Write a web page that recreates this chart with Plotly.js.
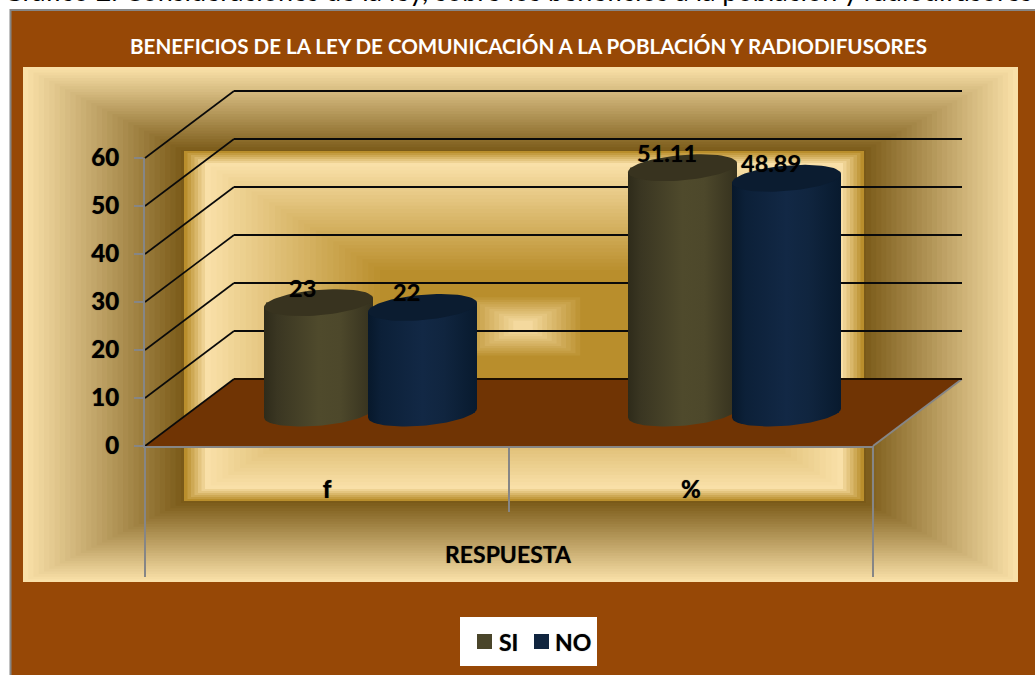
<!DOCTYPE html>
<html>
<head>
<meta charset="utf-8">
<script src="https://cdn.plot.ly/plotly-3.0.1.min.js"></script>
<style>html,body{margin:0;padding:0;background:#fff;overflow:hidden}</style>
</head>
<body>
<div id="chart" style="width:1035px;height:675px"></div>
<script>
// ---- data ----
const categories = ['f', '%'];
const seriesSI = [23, 51.11];
const seriesNO = [22, 48.89];
const labelsSI = ['23', '51.11'];
const labelsNO = ['22', '48.89'];
const yTicks = [0, 10, 20, 30, 40, 50, 60];
const seriesNames = ['SI', 'NO'];
const chartTitle = 'BENEFICIOS DE LA LEY DE COMUNICACIÓN A LA POBLACIÓN Y RADIODIFUSORES';
const xTitle = 'RESPUESTA';
const pageCaption = 'Gráfico 2. Consideraciones de la ley, sobre los beneficios a la población y radiodifusores';

// ---- geometry (pixels of the oblique 3-D box) ----
const W = 1035, H = 675;
const L = 145, R = 962, T = 85, B = 446;      // whole plot box
const frontW = 728, frontH = 288;             // front plane
const depthX = 89, depthY = 67;               // full depth offset
const pxPerUnit = frontH / 60, pxPerCat = frontW / 2;
const midBaseY = 413, midFirstX = 370.5;      // mid-depth plane
const half = 52, barW = 109;
const backBottom = B - depthY, backLeft = L + depthX, backRight = backLeft + frontW;

const pL = x => (x - L) / (R - L);
const pT = y => (B - y) / (B - T);

const COL = {
  brown: '#974806', floor: '#703404', cream: '#f9e0a8', dark: '#7a5a18', gold: '#b98e2c',
  si: '#4a452a', no: '#10253f', axis: '#868686'
};

function mix(a, b, t) {
  const h = c => [1, 3, 5].map(i => parseInt(c.substr(i, 2), 16));
  const A = h(a), B2 = h(b);
  return 'rgb(' + A.map((v, i) => Math.round(v + (B2[i] - v) * t)).join(',') + ')';
}

// nested rectangular gradient of the walls
const stops = [
  { r: [23, 67, 1018, 582], c: COL.cream, n: 30 },
  { r: [181, 150, 866, 503], c: COL.dark, n: 1 },
  { r: [184, 151, 864, 501], c: COL.gold, n: 6 },
  { r: [205, 163, 843, 489], c: COL.cream, n: 30 },
  { r: [380, 270, 670, 384], c: COL.gold, n: 1 },
  { r: [461, 295, 585, 358], c: COL.gold, n: 12 },
  { r: [518, 323, 528, 329], c: COL.cream, n: 1 }
];
const shapes = [];
const rectPx = (x0, y0, x1, y1, fill, line, lw) => ({
  type: 'rect', xref: 'paper', yref: 'paper', layer: 'below',
  x0: pL(x0), x1: pL(x1), y0: pT(y0), y1: pT(y1), fillcolor: fill,
  line: line ? { color: line, width: lw } : { width: 0 }
});
const linePx = (x0, y0, x1, y1, color, w) => ({
  type: 'line', xref: 'paper', yref: 'paper', layer: 'below',
  x0: pL(x0), x1: pL(x1), y0: pT(y0), y1: pT(y1), line: { color, width: w }
});
shapes.push(rectPx(10.5, 10, 1040, 680, COL.brown, COL.axis, 2));
for (let s = 0; s < stops.length - 1; s++) {
  const a = stops[s], b = stops[s + 1];
  for (let k = 0; k < a.n; k++) {
    const t = k / a.n;
    const r = a.r.map((v, i) => v + (b.r[i] - v) * t);
    shapes.push(rectPx(r[0], r[1], r[2], r[3], mix(a.c, b.c, t)));
  }
}
// floor
shapes.push({
  type: 'path', xref: 'paper', yref: 'paper', layer: 'below',
  path: 'M' + [[L, B], [L + frontW, B], [backRight, backBottom], [backLeft, backBottom]]
    .map(p => pL(p[0]) + ',' + pT(p[1])).join('L') + 'Z',
  fillcolor: COL.floor, line: { width: 0 }
});
// side-wall grid lines, axis extension lines
yTicks.forEach(v => {
  const y = B - v * pxPerUnit;
  shapes.push(linePx(L, y, backLeft, y - depthY, '#0a0a0a', 1.6));
});
shapes.push(linePx(L + frontW, B, backRight, backBottom, COL.axis, 2));
[0, 2].forEach(i => shapes.push(linePx(L + i * pxPerCat, B, L + i * pxPerCat, 577, COL.axis, 2)));
shapes.push(linePx(L + pxPerCat, B, L + pxPerCat, 512, COL.axis, 2));

// legend box
const legendShape = [
  { type: 'rect', xref: 'paper', yref: 'paper', layer: 'above', x0: pL(460), x1: pL(597), y0: pT(617), y1: pT(666), fillcolor: '#fff', line: { width: 0 } },
  { type: 'rect', xref: 'paper', yref: 'paper', layer: 'above', x0: pL(477), x1: pL(492), y0: pT(634), y1: pT(649), fillcolor: COL.si, line: { width: 0 } },
  { type: 'rect', xref: 'paper', yref: 'paper', layer: 'above', x0: pL(534), x1: pL(549), y0: pT(634), y1: pT(649), fillcolor: COL.no, line: { width: 0 } }
];

// ---- cylinders ----
const rx = barW / 2, tilt = -4.5, ry = 12.7;
function ellipsePts(cxPx, cyPx, from, to, n) {
  const out = [];
  for (let k = 0; k <= n; k++) {
    const th = from + (to - from) * k / n;
    out.push([cxPx + rx * Math.cos(th), cyPx - tilt * -Math.cos(th) + ry * Math.sin(th)]);
  }
  return out;
}
const toX2 = p => (p - midFirstX) / pxPerCat;
const toY2 = p => (midBaseY - p) / pxPerUnit;
function cylinderTraces(values, side, grad, topColor) {
  const tr = [];
  values.forEach((v, i) => {
    const cx = midFirstX + i * pxPerCat + side * half;
    const topY = midBaseY - v * pxPerUnit;
    const bottom = ellipsePts(cx, midBaseY, Math.PI, 0, 48);
    const body = [...bottom];
    body.push([cx + rx, topY + tilt], [cx - rx, topY - tilt]);
    body.push(bottom[0]);
    tr.push({
      type: 'scatter', mode: 'lines', xaxis: 'x2', yaxis: 'y2', hoverinfo: 'skip', showlegend: false,
      x: body.map(p => toX2(p[0])), y: body.map(p => toY2(p[1])),
      fill: 'toself', line: { width: 0 },
      fillgradient: { type: 'horizontal', start: toX2(cx - rx), stop: toX2(cx + rx), colorscale: grad }
    });
    const top = ellipsePts(cx, topY, 0, 2 * Math.PI, 72);
    tr.push({
      type: 'scatter', mode: 'lines', xaxis: 'x2', yaxis: 'y2', hoverinfo: 'skip', showlegend: false,
      x: top.map(p => toX2(p[0])), y: top.map(p => toY2(p[1])),
      fill: 'toself', fillcolor: topColor, line: { width: 0 }
    });
  });
  return tr;
}
const gradSI = [[0, '#2e2b1a'], [0.12, '#3a3622'], [0.5, '#4f4a2c'], [0.7, '#4d482b'], [1, '#35311e']];
const gradNO = [[0, '#07182b'], [0.12, '#0c2038'], [0.5, '#122845'], [0.7, '#10253f'], [1, '#081a2e']];

const indices = categories.map((_, i) => i);
const barTrace = (name, vals, side, color) => ({
  type: 'bar', name, x: indices, y: vals, xaxis: 'x2', yaxis: 'y2',
  width: (barW - 4) / pxPerCat, offset: (side * half - (barW - 4) / 2) / pxPerCat,
  marker: { color }, showlegend: false, hoverinfo: 'skip'
});
const traces = [
  // back wall: hosts the grid lines
  { type: 'scatter', x: [0], y: [0], xaxis: 'x', yaxis: 'y', mode: 'none', showlegend: false, hoverinfo: 'skip' },
  barTrace(seriesNames[0], seriesSI, -1, COL.si),
  barTrace(seriesNames[1], seriesNO, 1, COL.no),
  ...cylinderTraces(seriesSI, -1, gradSI, '#38331f'),
  ...cylinderTraces(seriesNO, 1, gradNO, '#0b1c30'),
  // front plane: hosts the visible axes
  { type: 'scatter', x: indices, y: [0, 0], xaxis: 'x3', yaxis: 'y3', mode: 'none', showlegend: false, hoverinfo: 'skip' }
];

const BOLD = 'Lato, Carlito, Calibri, sans-serif';
const SHADOW = '0 0 1px rgba(0,0,0,0.55)';
const tickFont = { family: BOLD, size: 24, color: '#000', weight: 900, shadow: SHADOW };
const dataLabel = (txt, i, v, side, dx) => ({
  xref: 'x2', yref: 'y2', x: i + side * half / pxPerCat, y: v, text: '<b>' + txt + '</b>', showarrow: false,
  xshift: dx, yshift: 15, font: { family: BOLD, size: 23.5, color: '#000', shadow: SHADOW }
});
const note = (x, y, txt, size, color, anchor, shadow) => ({
  xref: 'paper', yref: 'paper', x: pL(x), y: pT(y), text: txt, showarrow: false,
  xanchor: anchor || 'center', yanchor: 'middle', font: { family: BOLD, size, color, shadow: shadow || 'none' }
});
const annotations = [
  note(528, 45.5, '<b>' + chartTitle + '</b>', 20.6, '#fff'),
  { xref: 'paper', yref: 'paper', x: pL(1), y: pT(9), xanchor: 'left', yanchor: 'bottom', showarrow: false,
    text: pageCaption, font: { family: BOLD, size: 27, color: '#000' } },
  note(497, 642, '<b>' + seriesNames[0] + '</b>', 23, '#000', 'left', SHADOW),
  note(553, 642, '<b>' + seriesNames[1] + '</b>', 23, '#000', 'left', SHADOW),
  note(508.5, 554, '<b>' + xTitle + '</b>', 23, '#000', 'center', SHADOW),
  ...seriesSI.map((v, i) => dataLabel(labelsSI[i], i, v, -1, -16)),
  ...seriesNO.map((v, i) => dataLabel(labelsNO[i], i, v, 1, -16))
];

const layout = {
  width: W, height: H, autosize: false,
  margin: { l: L, r: W - R, t: T, b: H - B, pad: 0 },
  paper_bgcolor: '#fff', plot_bgcolor: 'rgba(0,0,0,0)',
  showlegend: false, barmode: 'overlay',
  shapes: [...shapes, ...legendShape],
  annotations,
  // back wall
  xaxis: { domain: [depthX / (R - L), 1], range: [0, 1], visible: false, fixedrange: true, anchor: 'y' },
  yaxis: {
    domain: [depthY / (B - T), 1], range: [0, (backBottom - T) / pxPerUnit], tickvals: yTicks,
    showgrid: true, gridcolor: '#0a0a0a', gridwidth: 1.6,
    showticklabels: false, ticks: '', zeroline: true, zerolinecolor: '#1c0e00', zerolinewidth: 1.6, showline: false, fixedrange: true, anchor: 'x'
  },
  // mid-depth plane holding the columns
  xaxis2: {
    domain: [0, 1], range: [toX2(L), toX2(R)], visible: false, fixedrange: true, anchor: 'y2'
  },
  yaxis2: {
    domain: [0, 1], range: [toY2(B), toY2(T)], visible: false, fixedrange: true, anchor: 'x2'
  },
  // front plane holding the visible axes
  xaxis3: {
    domain: [0, frontW / (R - L)], range: [-0.5, 1.5], anchor: 'y3', tickvals: indices, ticktext: categories,
    tickfont: tickFont, ticks: 'outside', ticklen: 21, tickcolor: 'rgba(0,0,0,0)', showgrid: false, zeroline: false,
    showline: true, linecolor: COL.axis, linewidth: 2, fixedrange: true
  },
  yaxis3: {
    domain: [0, frontH / (B - T)], range: [0, 60], anchor: 'x3', tickvals: yTicks, tickfont: tickFont,
    ticks: 'outside', ticklen: 9, tickcolor: COL.axis, tickwidth: 2, ticklabelstandoff: 10, showgrid: false, zeroline: false,
    showline: true, linecolor: COL.axis, linewidth: 2, fixedrange: true
  }
};
Plotly.newPlot('chart', traces, layout, { displayModeBar: false, staticPlot: true });
</script>
</body>
</html>
